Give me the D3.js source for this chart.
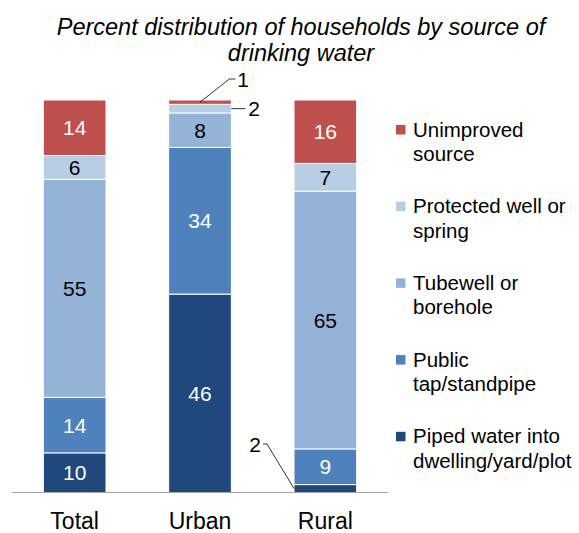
<!DOCTYPE html>
<html><head><meta charset="utf-8">
<script src="https://cdn.jsdelivr.net/npm/d3@7"></script>
<style>body{margin:0;background:#fff}svg{display:block;font-family:"Liberation Sans",Arial,sans-serif}</style>
</head><body><svg id="c" width="579" height="533"></svg>
<script>
const categories = ["Total", "Urban", "Rural"];
const seriesNames = ["Piped water into dwelling/yard/plot", "Public tap/standpipe", "Tubewell or borehole", "Protected well or spring", "Unimproved source"];
const legendLines = [["Piped water into", "dwelling/yard/plot"], ["Public", "tap/standpipe"], ["Tubewell or", "borehole"], ["Protected well or", "spring"], ["Unimproved", "source"]];
const piped = [10, 46, 2];
const publicTap = [14, 34, 9];
const tubewell = [55, 8, 65];
const protectedWell = [6, 2, 7];
const unimproved = [14, 1, 16];
const colors = ["#1F497D", "#4F81BD", "#95B3D7", "#B9CDE5", "#C0504D"];
const labelColors = ["#fff", "#fff", "#000", "#000", "#fff"];

const svg = d3.select("#c");
const seriesVals = [piped, publicTap, tubewell, protectedWell, unimproved];
const rows = categories.map((c, i) => {
  const r = {cat: c};
  seriesNames.forEach((s, k) => r[s] = seriesVals[k][i]);
  return r;
});
const stack = d3.stack().keys(seriesNames).offset(d3.stackOffsetExpand)(rows);

const x = d3.scaleBand().domain(categories).range([12, 388]).paddingInner(0.5).paddingOuter(0.25);
const y = d3.scaleLinear().domain([0, 1]).range([492.5, 100]);
const valFont = 21;

// title
svg.append("text").attr("x", 301).attr("y", 35).attr("text-anchor", "middle")
  .attr("font-size", 23.5).attr("font-style", "italic").attr("fill", "#000")
  .text("Percent distribution of households by source of");
svg.append("text").attr("x", 301).attr("y", 61).attr("text-anchor", "middle")
  .attr("font-size", 23.5).attr("font-style", "italic").attr("fill", "#000")
  .text("drinking water");

const g = svg.append("g");
stack.forEach((s, k) => {
  g.selectAll(null).data(s).enter().append("rect")
    .attr("x", d => x(d.data.cat))
    .attr("width", x.bandwidth())
    .attr("y", d => y(d[1]))
    .attr("height", d => y(d[0]) - y(d[1]))
    .attr("fill", colors[k])
    .attr("stroke", "#fff").attr("stroke-width", 1);
});

// labels inside
stack.forEach((s, k) => {
  s.forEach((d, i) => {
    const v = seriesVals[k][i];
    if (v < 5) return;
    svg.append("text")
      .attr("x", x(d.data.cat) + x.bandwidth() / 2)
      .attr("y", (y(d[0]) + y(d[1])) / 2)
      .attr("dy", "0.36em")
      .attr("text-anchor", "middle")
      .attr("font-size", valFont)
      .attr("fill", labelColors[k])
      .text(v);
  });
});

// callouts
const urbanX1 = x("Urban") + x.bandwidth();
const sU = stack[4][1];
const sP = stack[3][1];
const uTop = (y(sU[0]) + y(sU[1])) / 2;
const pMid = (y(sP[0]) + y(sP[1])) / 2;
svg.append("polyline").attr("fill", "none").attr("stroke", "#000").attr("stroke-width", 0.8)
  .attr("points", `${x("Urban") + x.bandwidth() / 2},${uTop} ${urbanX1 - 2},${79} ${urbanX1 + 4},${79}`);
svg.append("text").attr("x", urbanX1 + 6).attr("y", 79).attr("dy", "0.36em").attr("font-size", valFont).text(unimproved[1]);
svg.append("line").attr("stroke", "#000").attr("stroke-width", 0.8)
  .attr("x1", urbanX1).attr("x2", urbanX1 + 14).attr("y1", pMid).attr("y2", pMid);
svg.append("text").attr("x", urbanX1 + 17).attr("y", pMid).attr("dy", "0.36em").attr("font-size", valFont).text(protectedWell[1]);

const rX0 = x("Rural");
const sR = stack[0][2];
const rMid = (y(sR[0]) + y(sR[1])) / 2;
svg.append("polyline").attr("fill", "none").attr("stroke", "#000").attr("stroke-width", 0.8)
  .attr("points", `${rX0 - 31},444 ${rX0 - 27},444 ${rX0},${rMid}`);
svg.append("text").attr("x", rX0 - 33).attr("y", 444).attr("dy", "0.36em").attr("text-anchor", "end").attr("font-size", valFont).text(piped[2]);

// axis
const ax = svg.append("g").attr("transform", "translate(0,492.5)")
  .call(d3.axisBottom(x).tickSize(0).tickPadding(20.5));
ax.select(".domain").attr("stroke", "#A6A6A6").attr("stroke-width", 1.2).attr("d", "M12,0H388");
ax.selectAll("text").attr("font-size", 23).attr("fill", "#000").attr("font-family", "Liberation Sans, Arial, sans-serif");

// legend (top to bottom: reverse order)
const lg = svg.append("g");
const order = [4, 3, 2, 1, 0];
order.forEach((k, j) => {
  const yy = 136.5 + j * 76.7;
  lg.append("rect").attr("x", 396).attr("y", yy - 11.5).attr("width", 9.5).attr("height", 9.5).attr("fill", colors[k]);
  legendLines[k].forEach((t, li) => {
    lg.append("text").attr("x", 413).attr("y", yy + li * 24.5)
      .attr("font-size", 20.5).attr("fill", "#000").text(t);
  });
});
</script></body></html>
